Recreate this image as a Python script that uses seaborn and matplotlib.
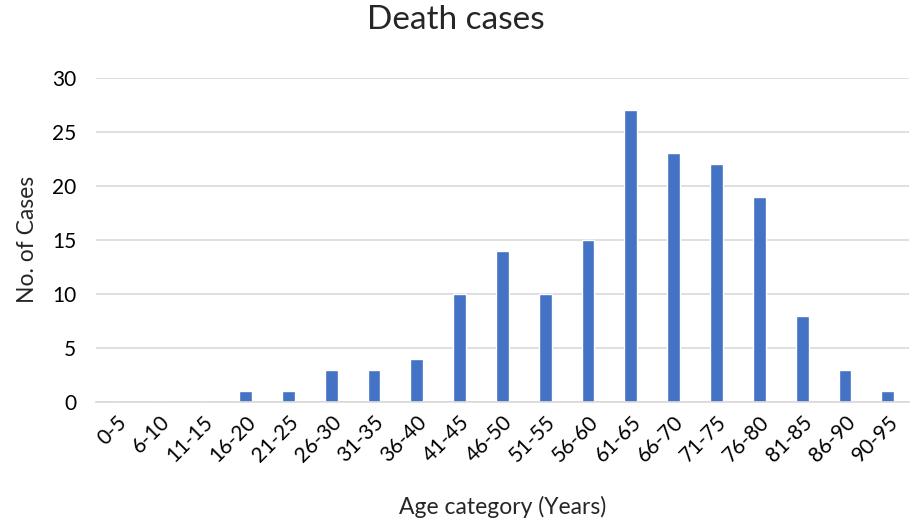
import matplotlib
matplotlib.use('Agg')
import matplotlib.pyplot as plt
import seaborn as sns
import pandas as pd

# Age groups and death counts
age_groups = ['0-5', '6-10', '11-15', '16-20', '21-25', '26-30', '31-35', '36-40',
              '41-45', '46-50', '51-55', '56-60', '61-65', '66-70', '71-75',
              '76-80', '81-85', '86-90', '90-95']
deaths = [0, 0, 0, 1, 1, 3, 3, 4, 10, 14, 10, 15, 27, 23, 22, 19, 8, 3, 1]

df = pd.DataFrame({'Age': age_groups, 'Cases': deaths})

sns.set_style('white')
plt.rcParams['font.family'] = ['Lato', 'DejaVu Sans']

fig = plt.figure(figsize=(9.11, 5.29), dpi=100)
ax = fig.add_axes([0.105, 0.24, 0.893, 0.613])

sns.barplot(data=df, x='Age', y='Cases', color='#4472C4', width=0.3,
            saturation=1, ax=ax)

ax.set_ylim(0, 30)
ax.set_yticks(range(0, 31, 5))
ax.yaxis.grid(True, color='#D9D9D9', linewidth=1.2)
ax.set_axisbelow(True)
for s in ['top', 'right', 'left']:
    ax.spines[s].set_visible(False)
ax.spines['bottom'].set_color('#D9D9D9')
ax.spines['bottom'].set_linewidth(1.2)
ax.tick_params(axis='both', length=0, labelsize=15, colors='#000000')
ax.tick_params(axis='y', pad=14)
ax.tick_params(axis='x', pad=7)
plt.setp(ax.get_xticklabels(), rotation=45, ha='right', rotation_mode='anchor')

ax.set_xlabel('Age category (Years)', fontsize=16.5, labelpad=22)
ax.set_ylabel('No. of Cases', fontsize=16.5, labelpad=10)
fig.suptitle('Death cases', fontsize=24, y=0.99)

fig.savefig('out.png', dpi=100)
